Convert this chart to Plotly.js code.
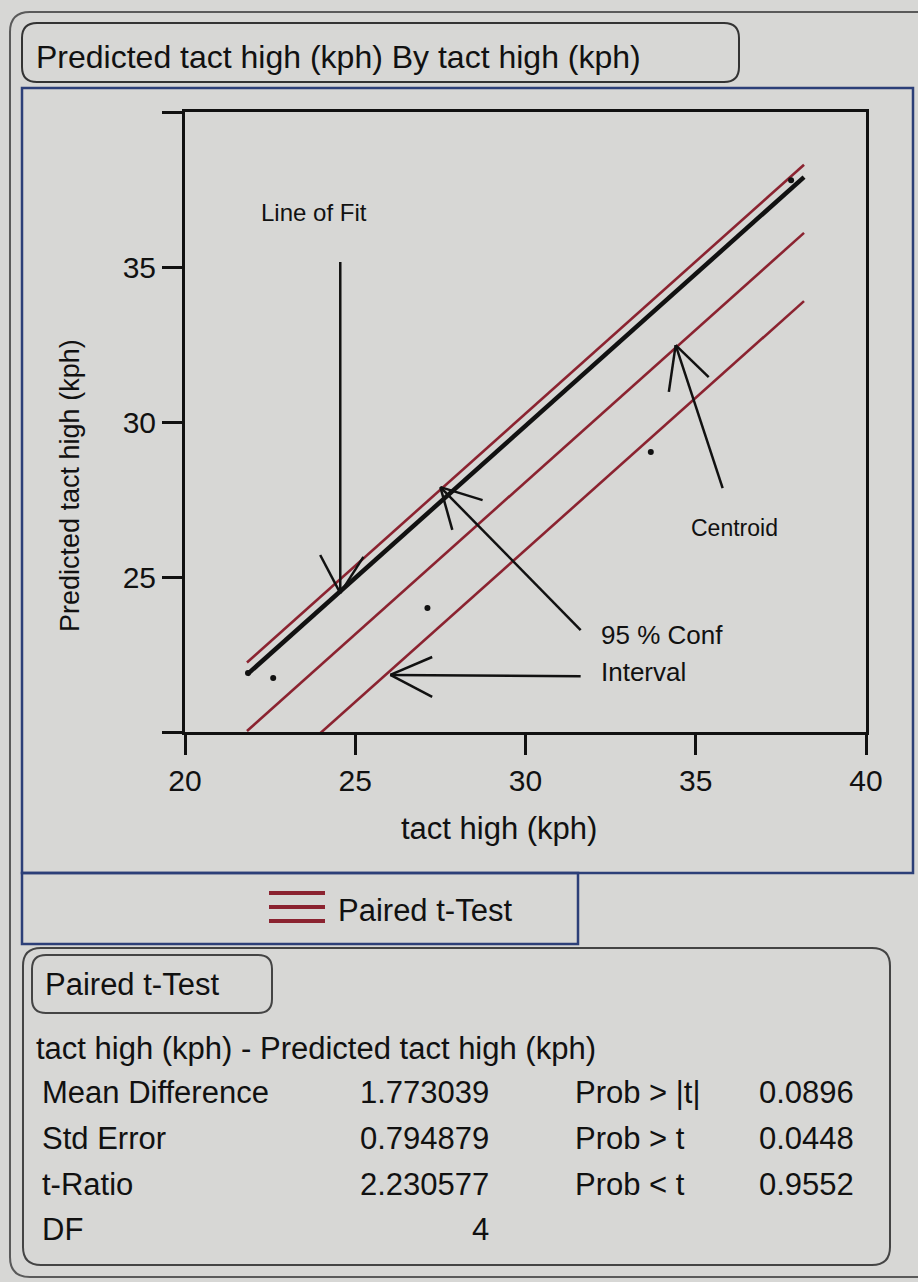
<!DOCTYPE html>
<html>
<head>
<meta charset="utf-8">
<script src="https://cdn.plot.ly/plotly-3.0.1.min.js"></script>
<style>
  html, body { margin: 0; padding: 0; background: #d7d7d5; }
  #chart { width: 918px; height: 1282px; }
</style>
</head>
<body>
<div id="chart"></div>
<script>
// ---------- data ----------
const pointX = [21.85, 22.59, 27.12, 33.68, 37.8];
const pointY = [21.9, 21.74, 24.0, 29.03, 37.8];

const lineX = [21.82, 38.18];
const upperCI = [22.24, 38.3];
const fitLine = [21.85, 37.9];
const meanDiffLine = [20.03, 36.1];
const lowerCI = [17.85, 33.9];

const xTicks = [20, 25, 30, 35, 40];
const xTickText = ['20', '25', '30', '35', '40'];
const yTicks = [20, 25, 30, 35, 40];
const yTickText = ['', '25', '30', '35', ''];

const statLabels = ['Mean Difference', 'Std Error', 't-Ratio', 'DF'];
const statValues = ['1.773039', '0.794879', '2.230577', '4'];
const probLabels = ['Prob > |t|', 'Prob > t', 'Prob < t'];
const probValues = ['0.0896', '0.0448', '0.9552'];

// ---------- page geometry ----------
const W = 918, H = 1282;
const PX = v => v / W;
const PY = v => 1 - v / H;
const FONT = 'Arial, "Liberation Sans", Helvetica, sans-serif';
const BG = '#d7d7d5';
const INK = '#111111';
const RED = '#8b2330';

function rr(x0, y0, x1, y1, r) {
  const X = v => PX(v).toFixed(5), Y = v => PY(v).toFixed(5);
  return `M${X(x0 + r)},${Y(y0)} L${X(x1 - r)},${Y(y0)} Q${X(x1)},${Y(y0)} ${X(x1)},${Y(y0 + r)} ` +
         `L${X(x1)},${Y(y1 - r)} Q${X(x1)},${Y(y1)} ${X(x1 - r)},${Y(y1)} ` +
         `L${X(x0 + r)},${Y(y1)} Q${X(x0)},${Y(y1)} ${X(x0)},${Y(y1 - r)} ` +
         `L${X(x0)},${Y(y0 + r)} Q${X(x0)},${Y(y0)} ${X(x0 + r)},${Y(y0)} Z`;
}

// ---------- traces ----------
const traces = [
  { x: lineX, y: upperCI, mode: 'lines', line: { color: RED, width: 2.6 }, hoverinfo: 'skip' },
  { x: lineX, y: meanDiffLine, mode: 'lines', line: { color: RED, width: 2.6 }, hoverinfo: 'skip' },
  { x: lineX, y: lowerCI, mode: 'lines', line: { color: RED, width: 2.6 }, hoverinfo: 'skip' },
  { x: lineX, y: fitLine, mode: 'lines', line: { color: '#111', width: 4.5 }, hoverinfo: 'skip' },
  { x: pointX, y: pointY, mode: 'markers', marker: { color: '#111', size: 6 }, hoverinfo: 'skip' }
];

// ---------- hand-drawn arrows (data coords) ----------
const arrows = [
  { tip: [24.56, 24.48], tail: [24.56, 35.16], barbs: [[23.97, 25.71], [25.24, 25.65]] },
  { tip: [27.5, 27.9], tail: [31.62, 23.29], barbs: [[28.74, 27.48], [27.85, 26.52]] },
  { tip: [26.03, 21.84], tail: [31.62, 21.8], barbs: [[27.26, 22.42], [27.26, 21.13]] },
  { tip: [34.41, 32.48], tail: [35.79, 27.87], barbs: [[34.21, 30.97], [35.38, 31.45]] }
];

const shapes = [];
// outer frame
shapes.push({ type: 'path', xref: 'paper', yref: 'paper', path: rr(10, 12, 940, 1277, 20),
  line: { color: '#5a5a5a', width: 2 }, layer: 'below' });
// title box
shapes.push({ type: 'path', xref: 'paper', yref: 'paper', path: rr(22, 23, 739, 82, 15),
  line: { color: '#333', width: 2 }, layer: 'below' });
// blue plot panel
shapes.push({ type: 'rect', xref: 'paper', yref: 'paper', x0: PX(22), x1: PX(913), y0: PY(873), y1: PY(88),
  line: { color: '#2c3f78', width: 2.5 }, layer: 'below' });
// legend box
shapes.push({ type: 'rect', xref: 'paper', yref: 'paper', x0: PX(22), x1: PX(578), y0: PY(944), y1: PY(873),
  line: { color: '#2c3f78', width: 2.5 }, layer: 'below' });
// stats box
shapes.push({ type: 'path', xref: 'paper', yref: 'paper', path: rr(23, 948, 890, 1265, 18),
  line: { color: '#444', width: 2 }, layer: 'below' });
// stats title box
shapes.push({ type: 'path', xref: 'paper', yref: 'paper', path: rr(32, 955, 272, 1013, 14),
  line: { color: '#444', width: 2 }, layer: 'below' });
// legend icon: three red lines
[893, 907, 921].forEach(yy => {
  shapes.push({ type: 'line', xref: 'paper', yref: 'paper', x0: PX(269), x1: PX(325), y0: PY(yy), y1: PY(yy),
    line: { color: RED, width: 4 } });
});
// arrows
arrows.forEach(a => {
  shapes.push({ type: 'line', xref: 'x', yref: 'y', x0: a.tail[0], y0: a.tail[1], x1: a.tip[0], y1: a.tip[1],
    line: { color: '#111', width: 2.5 } });
  a.barbs.forEach(b => {
    shapes.push({ type: 'line', xref: 'x', yref: 'y', x0: a.tip[0], y0: a.tip[1], x1: b[0], y1: b[1],
      line: { color: '#111', width: 2.5 } });
  });
});

// ---------- text ----------
const ann = [];
function txt(text, x, y, size, xanchor, extra) {
  ann.push(Object.assign({ text: text, xref: 'paper', yref: 'paper', x: PX(x), y: PY(y),
    xanchor: xanchor || 'left', yanchor: 'middle', showarrow: false,
    font: { family: FONT, size: size, color: INK } }, extra || {}));
}
txt('Predicted tact high (kph) By tact high (kph)', 34, 57, 32, 'left');
txt('Predicted tact high (kph)', 70, 486, 27, 'center', { textangle: -90 });
txt('tact high (kph)', 499, 828, 31, 'center');
txt('Line of Fit', 314, 212, 24, 'center');
txt('Centroid', 734, 528, 23, 'center');
txt('95 % Conf', 599, 635, 26, 'left');
txt('Interval', 599, 672, 26, 'left');
txt('Paired t-Test', 336, 910, 31, 'left');
txt('Paired t-Test', 43, 984, 31, 'left');
txt('tact high (kph) - Predicted tact high (kph)', 34, 1048, 31, 'left');
const rowY = [1092, 1138, 1184, 1229];
statLabels.forEach((s, i) => txt(s, 40, rowY[i], 31, 'left'));
statValues.forEach((s, i) => txt(s, 491, rowY[i], 31, 'right'));
probLabels.forEach((s, i) => txt(s, 573, rowY[i], 31, 'left'));
probValues.forEach((s, i) => txt(s, 856, rowY[i], 31, 'right'));

const axisCommon = {
  range: [20, 40], showgrid: false, zeroline: false,
  showline: true, linecolor: '#111', linewidth: 3, mirror: true,
  ticks: 'outside', ticklen: 20, tickwidth: 3, tickcolor: '#111',
  tickfont: { family: FONT, size: 30, color: INK }, fixedrange: true
};

const layout = {
  width: W, height: H,
  margin: { l: 0, r: 0, t: 0, b: 0 },
  paper_bgcolor: BG, plot_bgcolor: 'rgba(0,0,0,0)',
  showlegend: false,
  xaxis: Object.assign({}, axisCommon, {
    domain: [PX(185), PX(866)], tickvals: xTicks, ticktext: xTickText
  }),
  yaxis: Object.assign({}, axisCommon, {
    domain: [PY(732), PY(112)], tickvals: yTicks, ticktext: yTickText
  }),
  shapes: shapes,
  annotations: ann
};

Plotly.newPlot('chart', traces, layout, { staticPlot: true, displayModeBar: false });
</script>
</body>
</html>
